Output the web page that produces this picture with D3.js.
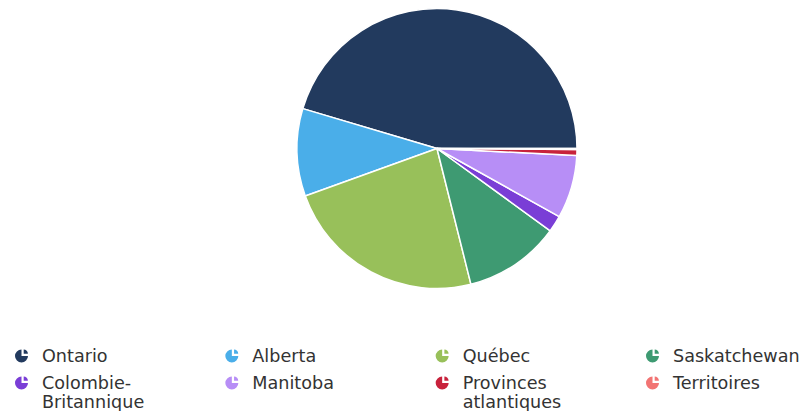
<!DOCTYPE html>
<html>
<head>
<meta charset="utf-8">
<script src="https://cdn.jsdelivr.net/npm/d3@7"></script>
<style>
  html, body { margin: 0; padding: 0; background: #ffffff; }
  svg { display: block; }
  .legend text { font-family: "DejaVu Sans", sans-serif; font-size: 17.6px; fill: #333333; }
</style>
</head>
<body>
<svg id="chart" width="804" height="411"></svg>
<script>
// ---- data ----
const categories = ["Ontario", "Alberta", "Québec", "Saskatchewan", "Colombie-Britannique", "Manitoba", "Provinces atlantiques", "Territoires"];
const values = [45.4, 10.1, 23.4, 11.1, 1.9, 7.3, 0.7, 0.1];
const colors = ["#223a5e", "#4aaee9", "#98c05a", "#3e9a72", "#7a3ed6", "#b78ef6", "#c8223c", "#f27473"];

const svg = d3.select("#chart");
const cx = 437, cy = 148.5, R = 140;

const data = categories.map((c, i) => ({ name: c, value: values[i], color: colors[i] }));

const pie = d3.pie()
  .sort(null)
  .value(d => d.value)
  .startAngle(Math.PI / 2)
  .endAngle(Math.PI / 2 - 2 * Math.PI);

const arc = d3.arc().innerRadius(0).outerRadius(R);

svg.append("g")
  .attr("transform", `translate(${cx},${cy})`)
  .selectAll("path")
  .data(pie(data))
  .join("path")
  .attr("d", arc)
  .attr("fill", d => d.data.color)
  .attr("stroke", "#ffffff")
  .attr("stroke-width", 1.5)
  .attr("stroke-linejoin", "round");

// ---- legend ----
const colX = d3.scalePoint().domain(d3.range(4)).range([15, 646]);
const rowY = [356, 383];
const legend = svg.append("g").attr("class", "legend");

const iconArc = d3.arc().innerRadius(0).outerRadius(6.5);
const iconSlice = d3.arc().innerRadius(0).outerRadius(4.2);

data.forEach((d, i) => {
  const col = i % 4, row = Math.floor(i / 4);
  const x = colX(col), y = rowY[row];
  const g = legend.append("g").attr("transform", `translate(${x + 6.5},${y})`);
  g.append("path").attr("d", iconArc({ startAngle: Math.PI / 2, endAngle: 2 * Math.PI })).attr("fill", d.color);
  g.append("path").attr("d", iconSlice({ startAngle: 0, endAngle: Math.PI / 2 }))
    .attr("transform", "translate(2.2,-2.2)").attr("fill", d.color);

  const t = legend.append("text").attr("x", x + 27).attr("y", y + 6);
  t.text(d.name);
  if (t.node().getComputedTextLength() > 160) {
    const m = d.name.match(/^(.*?[-\s])(.*)$/);
    t.text(null);
    t.append("tspan").attr("x", x + 27).attr("dy", 0).text(m[1].trim());
    t.append("tspan").attr("x", x + 27).attr("dy", 18.5).text(m[2]);
  }
});
</script>
</body>
</html>
